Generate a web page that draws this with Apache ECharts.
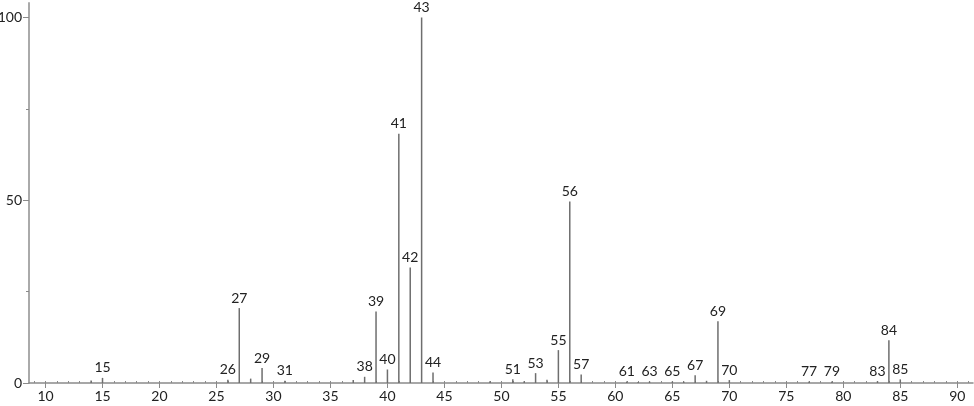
<!DOCTYPE html>
<html><head><meta charset="utf-8">
<script src="https://cdn.jsdelivr.net/npm/echarts@6/dist/echarts.min.js"></script>
<style>html,body{margin:0;padding:0;background:#fff}#c{width:974px;height:406px}</style>
</head><body><div id="c"></div>
<script>
var masses      = [14, 15, 26, 27, 28, 29, 31, 37, 38, 39, 40, 41, 42, 43, 44, 49, 51, 52, 53, 54, 55, 56, 57, 61, 62, 63, 65, 66, 67, 68, 69, 70, 77, 79, 83, 84, 85];
var intensities = [0.7, 1.4, 0.9, 20.5, 1.2, 4.1, 0.6, 0.8, 1.7, 19.6, 3.7, 68.2, 31.6, 100, 2.9, 0.5, 1.0, 0.5, 2.7, 0.9, 9.0, 49.7, 2.3, 0.4, 0.3, 0.4, 0.4, 0.4, 2.1, 0.6, 16.9, 0.8, 0.4, 0.4, 0.5, 11.7, 1.0];
var labeledMasses = [15, 26, 27, 29, 31, 38, 39, 40, 41, 42, 43, 44, 51, 53, 55, 56, 57, 61, 63, 65, 67, 69, 70, 77, 79, 83, 84, 85];
var xMajorTicks = [10, 15, 20, 25, 30, 35, 40, 45, 50, 55, 60, 65, 70, 75, 80, 85, 90];
var xMinorTicks = []; for (var m = 9; m <= 91; m++) xMinorTicks.push(m);
var yMajorTicks = [0, 50, 100];
var yMinorTicks = [25, 75];

var FONT = 'Lato, "Noto Sans", sans-serif';
var XMIN = 8.55, XMAX = 91.38, YMIN = 0, YMAX = 104;
var data = masses.map(function (m, i) { return [m, intensities[i], labeledMasses.indexOf(m) >= 0 ? 1 : 0]; });

var chart = echarts.init(document.getElementById('c'), null, {renderer: 'canvas'});
chart.setOption({
  animation: false,
  grid: {left: 29, right: 1, top: 3, bottom: 23, containLabel: false, outerBoundsMode: 'none'},
  xAxis: [
    {type: 'value', min: XMIN, max: XMAX, splitLine: {show: false},
     axisLine: {show: true, onZero: false, lineStyle: {color: '#8a8a8a', width: 1.5}},
     axisTick: {show: true, customValues: xMajorTicks, inside: false, length: 5, lineStyle: {color: '#8a8a8a', width: 1}},
     axisLabel: {show: true, customValues: xMajorTicks, margin: 6, fontFamily: FONT, fontSize: 14, color: '#222'}},
    {type: 'value', min: XMIN, max: XMAX, position: 'bottom', offset: 0, splitLine: {show: false},
     axisLine: {show: false},
     axisTick: {show: true, customValues: xMinorTicks, inside: true, length: 2, lineStyle: {color: '#8a8a8a', width: 1}},
     axisLabel: {show: false}}
  ],
  yAxis: [
    {type: 'value', min: YMIN, max: YMAX, splitLine: {show: false},
     axisLine: {show: true, onZero: false, lineStyle: {color: '#aaaaaa', width: 2}},
     axisTick: {show: true, customValues: yMajorTicks, length: 6, lineStyle: {color: '#8a8a8a', width: 1}},
     axisLabel: {show: true, customValues: yMajorTicks, margin: 7, fontFamily: FONT, fontSize: 14, color: '#222'}},
    {type: 'value', min: YMIN, max: YMAX, position: 'left', offset: 0, splitLine: {show: false},
     axisLine: {show: false},
     axisTick: {show: true, customValues: yMinorTicks, length: 3, lineStyle: {color: '#8a8a8a', width: 1}},
     axisLabel: {show: false}}
  ],
  series: [{
    type: 'custom', xAxisIndex: 0, yAxisIndex: 0, data: data, clip: false,
    renderItem: function (params, api) {
      var m = api.value(0), v = api.value(1), lab = api.value(2);
      var p0 = api.coord([m, 0]), p1 = api.coord([m, v]);
      var children = [{
        type: 'line',
        shape: {x1: p0[0], y1: p0[1], x2: p1[0], y2: p1[1]},
        style: {stroke: '#6e6e6e', lineWidth: 1.5}
      }];
      if (lab) {
        children.push({
          type: 'text',
          style: {text: String(m), x: p1[0], y: p1[1] - 3, align: 'center', verticalAlign: 'bottom',
                  font: '14px ' + FONT, fill: '#222'}
        });
      }
      return {type: 'group', children: children};
    }
  }]
});
</script>
</body></html>
